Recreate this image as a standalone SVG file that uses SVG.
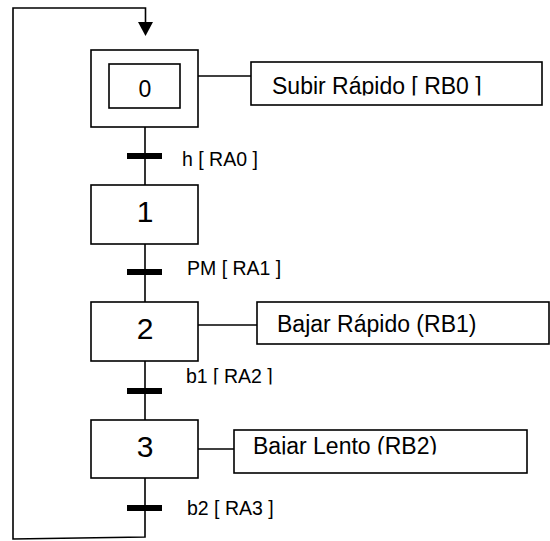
<svg xmlns="http://www.w3.org/2000/svg" width="550" height="541" viewBox="0 0 550 541">
<style>
.box{fill:#fff;stroke:#000;stroke-width:1.6}
.ln{fill:none;stroke:#000;stroke-width:1.6}
.bar{fill:#000}
.num{font-family:"Liberation Sans",Arial,sans-serif;font-size:30px;text-anchor:middle;fill:#000}
.num0{font-family:"Liberation Sans",Arial,sans-serif;font-size:23px;text-anchor:middle;fill:#000}
.lbl{font-family:"Liberation Sans",Arial,sans-serif;font-size:19.5px;fill:#000}
.act{font-family:"Liberation Sans",Arial,sans-serif;font-size:23px;fill:#000}
</style>
<defs>
<clipPath id="c0"><rect x="250" y="60" width="300" height="35.5"/></clipPath>
<clipPath id="c2"><rect x="180" y="360" width="120" height="24.5"/></clipPath>
<clipPath id="c3"><rect x="234" y="430" width="300" height="24.5"/></clipPath>
</defs>
<g id="connectors">
<polyline class="ln" points="145,478 145,537 13,539 13,8 145.5,8 145.5,24"/>
<polygon points="138,22 153,22 145.5,36" fill="#000"/>
<line class="ln" x1="145" y1="127" x2="145" y2="185"/>
<line class="ln" x1="145" y1="244" x2="145" y2="302"/>
<line class="ln" x1="145" y1="361" x2="145" y2="420"/>
<line class="ln" x1="198" y1="76" x2="251" y2="76"/>
<line class="ln" x1="198" y1="325" x2="257" y2="325"/>
<line class="ln" x1="198" y1="449" x2="234" y2="449"/>
</g>
<g id="step0">
<rect class="box" x="91" y="50" width="107" height="77"/>
<rect class="box" x="109" y="64" width="71" height="44"/>
<text class="num0" x="145" y="97">0</text>
</g>
<g id="step1">
<rect class="box" x="91" y="185" width="107" height="59"/>
<text class="num" x="145" y="222">1</text>
</g>
<g id="step2">
<rect class="box" x="91" y="302" width="107" height="59"/>
<text class="num" x="145" y="339">2</text>
</g>
<g id="step3">
<rect class="box" x="91" y="420" width="107" height="58"/>
<text class="num" x="145" y="457">3</text>
</g>
<g id="action0">
<rect class="box" x="251" y="62" width="291" height="43"/>
<text class="act" x="272" y="94" clip-path="url(#c0)">Subir Rápido [ RB0 ]</text>
</g>
<g id="action2">
<rect class="box" x="257" y="302" width="292" height="42"/>
<text class="act" x="277" y="332">Bajar Rápido (RB1)</text>
</g>
<g id="action3">
<rect class="box" x="234" y="430" width="293" height="43"/>
<text class="act" x="253" y="454" clip-path="url(#c3)">Bajar Lento (RB2)</text>
</g>
<g id="t0">
<rect class="bar" x="127" y="153" width="35" height="6"/>
<text class="lbl" x="182" y="166">h [ RA0 ]</text>
</g>
<g id="t1">
<rect class="bar" x="127" y="269" width="35" height="6"/>
<text class="lbl" x="187" y="275">PM [ RA1 ]</text>
</g>
<g id="t2">
<rect class="bar" x="127" y="388" width="35" height="6"/>
<text class="lbl" x="186" y="383" clip-path="url(#c2)">b1 [ RA2 ]</text>
</g>
<g id="t3">
<rect class="bar" x="127" y="505" width="35" height="6"/>
<text class="lbl" x="187" y="515">b2 [ RA3 ]</text>
</g>
</svg>
